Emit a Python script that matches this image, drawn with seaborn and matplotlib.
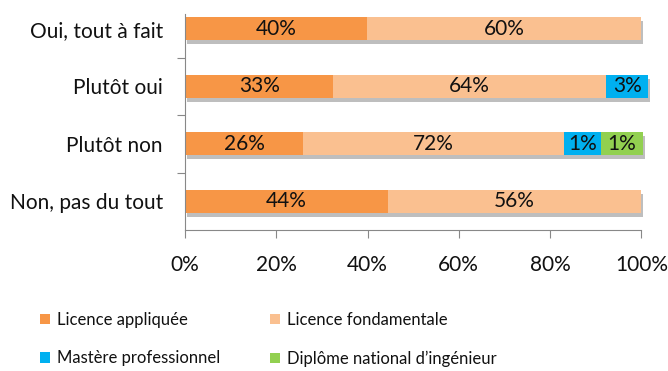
import numpy as np
import matplotlib
matplotlib.use("Agg")
import matplotlib.pyplot as plt
import matplotlib.patheffects as pe
from matplotlib.patches import Patch
from matplotlib.ticker import FixedLocator
import seaborn as sns

# data (segment widths as drawn, labels as printed)
categories = ["Oui, tout à fait", "Plutôt oui", "Plutôt non", "Non, pas du tout"]
series = ["Licence appliquée", "Licence fondamentale",
          "Mastère professionnel", "Diplôme national d\u2019ingénieur"]
licence_app = [39.9, 32.5, 25.9, 44.5]
licence_fond = [60.1, 59.8, 57.1, 55.5]
mastere = [0, 9.2, 8.2, 0]
ingenieur = [0, 0, 9.2, 0]
lab_app = ["40%", "33%", "26%", "44%"]
lab_fond = ["60%", "64%", "72%", "56%"]
lab_mast = ["", "3%", "1%", ""]
lab_ing = ["", "", "1%", ""]
colors = ["#F79646", "#FAC090", "#00B0F0", "#92D050"]

sns.set_theme(style="white")
plt.rcParams["font.family"] = ["Lato", "DejaVu Sans"]
txt = "#111111"

vals = np.array([licence_app, licence_fond, mastere, ingenieur])
labs = [lab_app, lab_fond, lab_mast, lab_ing]
cum = vals.cumsum(axis=0)

fig = plt.figure(figsize=(6.68, 3.71), dpi=100)
ax = fig.add_axes([0.277, 0.38, 0.683, 0.62])

# draw cumulative totals from the longest down, so each layer shows its own segment
for i in range(len(series) - 1, -1, -1):
    sns.barplot(x=cum[i], y=categories, orient="h", color=colors[i],
                saturation=1, width=0.4, linewidth=0, ax=ax)
    n = len(categories)
    for p in ax.patches[-n:]:
        p.set_clip_on(False)
        if i == len(series) - 1:
            p.set_path_effects([pe.withSimplePatchShadow(offset=(1.5, -3),
                                                         shadow_rgbFace="#8a8a8a",
                                                         alpha=0.55), pe.Normal()])

for i in range(len(series)):
    left = cum[i] - vals[i]
    for j in range(len(categories)):
        if labs[i][j]:
            ax.text(left[j] + vals[i][j] / 2, j, labs[i][j], ha="center",
                    va="center", fontsize=15, color=txt)

ax.set_xlim(0, 100)
ax.set_ylim(3.5, -0.5)
ax.set_xticks([0, 20, 40, 60, 80, 100])
ax.set_xticklabels(["0%", "20%", "40%", "60%", "80%", "100%"], fontsize=15,
                   color=txt)
ax.tick_params(axis="x", which="major", bottom=True, length=6, width=0.8,
               color="#888888", pad=12, direction="out")
ax.tick_params(axis="y", which="major", left=False, pad=10, labelsize=15,
               labelcolor=txt)
ax.yaxis.set_minor_locator(FixedLocator([0.5, 1.5, 2.5]))
ax.tick_params(axis="y", which="minor", left=True, length=6, width=0.8,
               color="#888888", direction="out")
ax.set_xlabel("")
ax.set_ylabel("")
for s in ["top", "right"]:
    ax.spines[s].set_visible(False)
for s in ["left", "bottom"]:
    ax.spines[s].set_color("#888888")
    ax.spines[s].set_linewidth(0.8)
ax.spines["left"].set_bounds(-0.26, 3.5)

# legend fills by column, so order the entries to read row by row
order = [0, 2, 1, 3]
handles = [Patch(facecolor=colors[k], edgecolor="none") for k in order]
fig.legend(handles, [series[k] for k in order], ncol=2, loc="upper left",
           bbox_to_anchor=(0.038, 0.2), frameon=False, fontsize=12,
           labelcolor=txt, handlelength=0.6, handleheight=0.6,
           handletextpad=0.4, columnspacing=3.0, labelspacing=1.35)

fig.savefig("out.png", dpi=100)
